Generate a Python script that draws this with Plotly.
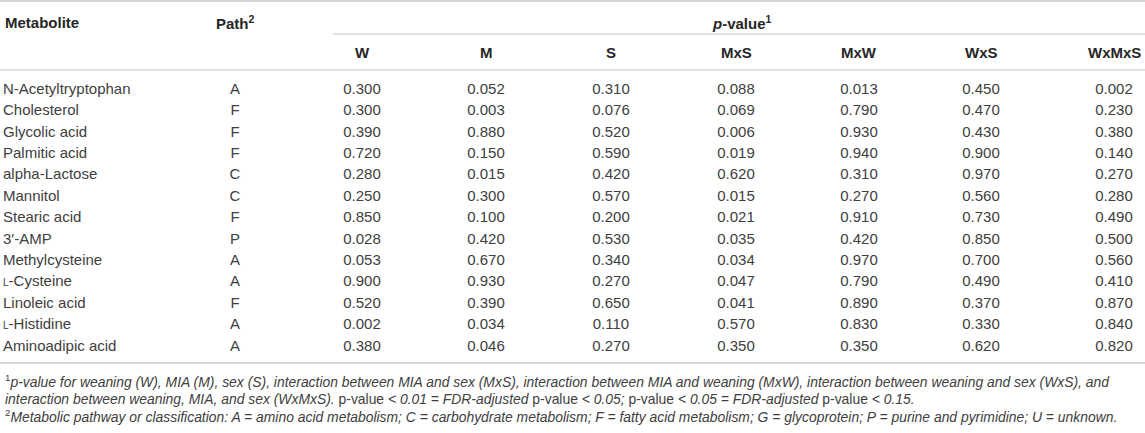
"""Table of metabolite p-values drawn as a Plotly figure."""

import plotly.graph_objects as go

# Table content
metabolites = [
    'N-Acetyltryptophan',
    'Cholesterol',
    'Glycolic acid',
    'Palmitic acid',
    'alpha-Lactose',
    'Mannitol',
    'Stearic acid',
    '3\u2032-AMP',
    'Methylcysteine',
    "<span style='font-size:10px'>L</span>-Cysteine",
    'Linoleic acid',
    "<span style='font-size:10px'>L</span>-Histidine",
    'Aminoadipic acid',
]
paths = ['A', 'F', 'F', 'F', 'C', 'C', 'F', 'P', 'A', 'A', 'F', 'A', 'A']

effects = ['W', 'M', 'S', 'MxS', 'MxW', 'WxS', 'WxMxS']
p_w = [0.300, 0.300, 0.390, 0.720, 0.280, 0.250, 0.850, 0.028, 0.053, 0.900, 0.520, 0.002, 0.380]
p_m = [0.052, 0.003, 0.880, 0.150, 0.015, 0.300, 0.100, 0.420, 0.670, 0.930, 0.390, 0.034, 0.046]
p_s = [0.310, 0.076, 0.520, 0.590, 0.420, 0.570, 0.200, 0.530, 0.340, 0.270, 0.650, 0.110, 0.270]
p_mxs = [0.088, 0.069, 0.006, 0.019, 0.620, 0.015, 0.021, 0.035, 0.034, 0.047, 0.041, 0.570, 0.350]
p_mxw = [0.013, 0.790, 0.930, 0.940, 0.310, 0.270, 0.910, 0.420, 0.970, 0.790, 0.890, 0.830, 0.350]
p_wxs = [0.450, 0.470, 0.430, 0.900, 0.970, 0.560, 0.730, 0.850, 0.700, 0.490, 0.370, 0.330, 0.620]
p_wxmxs = [0.002, 0.230, 0.380, 0.140, 0.270, 0.280, 0.490, 0.500, 0.560, 0.410, 0.870, 0.840, 0.820]
p_columns = [p_w, p_m, p_s, p_mxs, p_mxw, p_wxs, p_wxmxs]

footnotes = [
    '<sup>1</sup><i>p-value for weaning (W), MIA (M), sex (S), interaction between MIA and sex (MxS), '
    'interaction between MIA and weaning (MxW), interaction between weaning and sex (WxS), and</i>',
    '<i>interaction between weaning, MIA, and sex (WxMxS).</i> p-value <i>&lt; 0.01 = FDR-adjusted</i> '
    'p-value <i>&lt; 0.05;</i> p-value <i>&lt; 0.05 = FDR-adjusted</i> p-value <i>&lt; 0.15.</i>',
    '<sup>2</sup><i>Metabolic pathway or classification: A = amino acid metabolism; '
    'C = carbohydrate metabolism; F = fatty acid metabolism; G = glycoprotein; '
    'P = purine and pyrimidine; U = unknown.</i>',
]

# Layout constants (pixels)
WIDTH, HEIGHT = 1145, 433
FONT = 'Liberation Sans, Arial, sans-serif'
TEXT_COLOR = '#404040'
HEAD_COLOR = '#262626'
RULE_COLOR = '#d6d6d6'
FONT_SIZE = 15
FOOT_SIZE = 13.9

name_x = 3
path_x = 235
p_x = [362, 486, 611, 736, 859, 981, 1114]
header1_y = 22
header2_y = 52
row0_y = 90
row_step = 21.4
foot0_y = 381
foot_step = 17.5

row_y = [row0_y + i * row_step for i in range(len(metabolites))]

data = []

# Metabolite names (left aligned)
data.append(
    go.Scatter(
        x=[name_x] * len(metabolites),
        y=row_y,
        text=metabolites,
        mode='text',
        textposition='middle right',
        textfont=dict(family=FONT, size=FONT_SIZE, color=TEXT_COLOR),
        hoverinfo='skip',
    )
)

# Pathway letters
data.append(
    go.Scatter(
        x=[path_x] * len(paths),
        y=row_y,
        text=paths,
        mode='text',
        textposition='middle center',
        textfont=dict(family=FONT, size=FONT_SIZE, color=TEXT_COLOR),
        hoverinfo='skip',
    )
)

# p-value columns
for x_pos, values in zip(p_x, p_columns):
    data.append(
        go.Scatter(
            x=[x_pos] * len(values),
            y=row_y,
            text=[f'{v:.3f}' for v in values],
            mode='text',
            textposition='middle center',
            textfont=dict(family=FONT, size=FONT_SIZE, color=TEXT_COLOR),
            hoverinfo='skip',
        )
    )

# Header cells
head_font = dict(family=FONT, size=FONT_SIZE, color=HEAD_COLOR)
annotations = [
    dict(x=name_x, y=header1_y, text='<b>Metabolite</b>', xanchor='left'),
    dict(x=path_x, y=header1_y, text='<b>Path<sup>2</sup></b>', xanchor='center'),
    dict(
        x=(p_x[0] + p_x[-1]) / 2 + 4,
        y=header1_y,
        text='<b><i>p</i>-value<sup>1</sup></b>',
        xanchor='center',
    ),
]
for x_pos, label in zip(p_x, effects):
    annotations.append(dict(x=x_pos, y=header2_y, text=f'<b>{label}</b>', xanchor='center'))

# Footnotes
for i, note in enumerate(footnotes):
    annotations.append(
        dict(
            x=name_x,
            y=foot0_y + i * foot_step,
            text=note,
            xanchor='left',
            font=dict(family=FONT, size=FOOT_SIZE, color=TEXT_COLOR),
        )
    )

for ann in annotations:
    ann.setdefault('font', head_font)
    ann.update(xref='x', yref='y', yanchor='middle', showarrow=False)

# Horizontal rules
rules = [
    (0, WIDTH, 1, 2),
    (333, WIDTH, 34, 1.5),
    (0, WIDTH, 70, 1.5),
    (0, WIDTH, 363, 2),
]
shapes = [
    dict(
        type='line',
        xref='x',
        yref='y',
        x0=x0,
        x1=x1,
        y0=y,
        y1=y,
        line=dict(color=RULE_COLOR, width=w),
    )
    for x0, x1, y, w in rules
]

layout = go.Layout(
    width=WIDTH,
    height=HEIGHT,
    autosize=False,
    margin=dict(l=0, r=0, t=0, b=0, pad=0),
    paper_bgcolor='white',
    plot_bgcolor='white',
    showlegend=False,
    xaxis=dict(range=[0, WIDTH], visible=False, fixedrange=True),
    yaxis=dict(range=[HEIGHT, 0], visible=False, fixedrange=True),
    annotations=annotations,
    shapes=shapes,
)

fig = go.Figure(data=data, layout=layout)

# Drop the default page margin so the table sits at the window's corner
fig.write_html(
    'out.html',
    config=dict(displayModeBar=False),
    post_script="document.body.style.margin='0';document.body.style.overflow='hidden';",
)
